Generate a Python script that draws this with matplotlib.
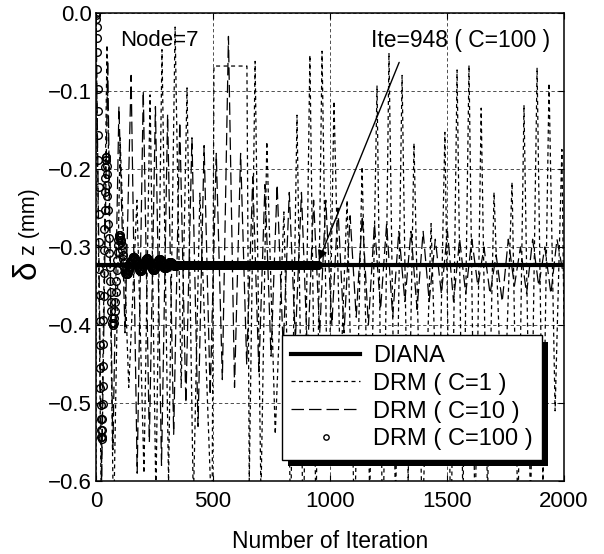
import numpy as np
import matplotlib
matplotlib.use("Agg")
import matplotlib.pyplot as plt
import matplotlib.patheffects as pe

plt.rcParams['font.family'] = ['Liberation Sans', 'DejaVu Sans']

# DIANA reference value
diana_val = -0.323

# DRM (C=1): turning points of the zigzag (iteration, delta z)
c1_iter = [0, 22, 47, 75, 103, 140, 175, 205, 231, 256, 282, 310, 338, 364, 389,
           416, 444, 496, 504, 645, 655, 680, 705, 730, 766, 803, 832, 859, 886,
           914, 940, 966, 992, 1017, 1045, 1073, 1105, 1137, 1170, 1201, 1226,
           1252, 1280, 1308, 1334, 1359, 1395, 1432, 1462, 1491, 1517, 1543,
           1568, 1594, 1620, 1646, 1673, 1701, 1740, 1778, 1803, 1829, 1857,
           1885, 1910, 1936, 1962, 1991, 2000]
c1_val = [0.0, -0.62, -0.041, -0.66, -0.160, -0.48, -0.240, -0.59, -0.105, -0.62,
          -0.047, -0.60, -0.018, -0.48, -0.096, -0.63, -0.231, -0.66, -0.068,
          -0.068, -0.60, -0.062, -0.62, -0.165, -0.54, -0.255, -0.64, -0.131,
          -0.68, -0.054, -0.65, -0.049, -0.56, -0.113, -0.47, -0.240, -0.66,
          -0.197, -0.62, -0.093, -0.70, -0.051, -0.64, -0.080, -0.60, -0.167,
          -0.66, -0.270, -0.58, -0.153, -0.68, -0.073, -0.63, -0.067, -0.66,
          -0.122, -0.62, -0.230, -0.56, -0.217, -0.65, -0.118, -0.64, -0.070,
          -0.60, -0.090, -0.51, -0.175, -0.40]

# DRM (C=10): turning points
c10_iter = [0, 24, 50, 72, 98, 124, 150, 176, 202, 228, 254, 280, 306, 332, 358,
            384, 410, 436, 462, 488, 514, 540, 566, 592, 618, 644, 670, 696, 722,
            748, 774, 800, 826, 852, 878, 904, 930, 956, 982, 1008, 1034, 1060,
            1086, 1112, 1138, 1164, 1190, 1216, 1242, 1268, 1294, 1320, 1346,
            1372, 1398, 1424, 1450, 1476, 1502, 1528, 1554, 1580, 1606, 1632,
            1658, 1684, 1710, 1736, 1762, 1788, 1814, 1840, 1866, 1892, 1918,
            1944, 1970, 2000]
c10_val = [0.0, -0.60, -0.06, -0.56, -0.12, -0.41, -0.08, -0.59, -0.10, -0.55,
           -0.12, -0.58, -0.13, -0.54, -0.14, -0.50, -0.16, -0.53, -0.17, -0.49,
           -0.18, -0.47, -0.03, -0.48, -0.18, -0.45, -0.21, -0.46, -0.22, -0.44,
           -0.22, -0.43, -0.23, -0.42, -0.23, -0.44, -0.24, -0.41, -0.24, -0.40,
           -0.25, -0.41, -0.26, -0.39, -0.26, -0.40, -0.27, -0.38, -0.27, -0.39,
           -0.28, -0.37, -0.28, -0.38, -0.28, -0.37, -0.29, -0.36, -0.28, -0.37,
           -0.29, -0.36, -0.29, -0.35, -0.30, -0.36, -0.31, -0.37, -0.29, -0.35,
           -0.30, -0.36, -0.29, -0.35, -0.30, -0.36, -0.29, -0.34]

# DRM (C=100): first swing, one value per iteration (0-47)
c100_first = [0.000, -0.002, -0.008, -0.018, -0.032, -0.050, -0.072, -0.097, -0.125,
              -0.156, -0.189, -0.223, -0.258, -0.293, -0.328, -0.362, -0.395, -0.426,
              -0.455, -0.481, -0.503, -0.521, -0.535, -0.543, -0.546, -0.543, -0.534,
              -0.520, -0.501, -0.478, -0.452, -0.424, -0.394, -0.363, -0.333, -0.304,
              -0.277, -0.252, -0.230, -0.212, -0.198, -0.189, -0.184, -0.184, -0.188,
              -0.196, -0.207, -0.220]
# every 2nd iteration, 48-350
c100_rest = [-0.235, -0.252, -0.270, -0.289, -0.308, -0.326, -0.343, -0.358, -0.371,
             -0.382, -0.391, -0.397, -0.400, -0.400, -0.397, -0.391, -0.382, -0.371,
             -0.358, -0.344, -0.330, -0.317, -0.306, -0.297, -0.291, -0.287, -0.285,
             -0.285, -0.287, -0.291,
             -0.293, -0.298, -0.304, -0.310, -0.316, -0.321, -0.325, -0.328, -0.331,
             -0.333, -0.334, -0.335, -0.335, -0.334, -0.333, -0.331, -0.329, -0.326,
             -0.324, -0.322, -0.320, -0.318, -0.317, -0.315, -0.314, -0.313, -0.313,
             -0.313, -0.313, -0.314, -0.315, -0.317, -0.318, -0.320, -0.322, -0.324,
             -0.326, -0.328, -0.329, -0.330, -0.331, -0.331, -0.331, -0.330, -0.329,
             -0.328, -0.326, -0.324, -0.322, -0.320, -0.318, -0.317, -0.315, -0.315,
             -0.314, -0.314, -0.314, -0.315, -0.316, -0.317, -0.319, -0.320, -0.322,
             -0.324, -0.325, -0.327, -0.328, -0.329, -0.329, -0.329, -0.329, -0.328,
             -0.327, -0.325, -0.324, -0.322, -0.321, -0.319, -0.318, -0.317, -0.316,
             -0.316, -0.316, -0.316, -0.317, -0.318, -0.319, -0.321, -0.322, -0.323,
             -0.325, -0.326, -0.327, -0.327, -0.327, -0.327, -0.326, -0.325, -0.324,
             -0.323, -0.322, -0.321, -0.320, -0.319, -0.319, -0.319, -0.319, -0.320,
             -0.320, -0.321, -0.322, -0.323, -0.323, -0.324, -0.324, -0.324, -0.324,
             -0.324, -0.323, -0.323, -0.323, -0.323]
c100_plateau = -0.323
c100_end = 948

rest_iter = np.arange(48, 48 + 2 * len(c100_rest), 2)
plateau_iter = np.arange(rest_iter[-1] + 3, c100_end + 1, 3)
c100_x = np.concatenate([np.arange(len(c100_first)), rest_iter, plateau_iter])
c100_y = np.concatenate([c100_first, c100_rest,
                         np.full(len(plateau_iter), c100_plateau)])

fig = plt.figure(figsize=(6.04, 5.54), dpi=100)
ax = fig.add_axes([96 / 604, 1 - 481 / 554, 468 / 604, 468 / 554])

ax.plot(c1_iter, c1_val, color='black', lw=0.9, dashes=(3.2, 2.8),
        label='DRM ( C=1 )', zorder=2)
ax.plot(c10_iter, c10_val, color='black', lw=0.9, dashes=(10, 4),
        label='DRM ( C=10 )', zorder=2)
ax.plot([0, 2000], [diana_val, diana_val], color='black', lw=3.0,
        label='DIANA', zorder=3)
ax.plot(c100_x, c100_y, 'o', ms=5.5, mfc='none', mec='black', mew=1.0,
        label='DRM ( C=100 )', zorder=4)

ax.set_xlim(0, 2000)
ax.set_ylim(-0.6, 0.0)
ax.set_xticks([0, 500, 1000, 1500, 2000])
ax.set_yticks([0.0, -0.1, -0.2, -0.3, -0.4, -0.5, -0.6])
ax.set_yticklabels(['0.0', '\u22120.1', '\u22120.2', '\u22120.3', '\u22120.4',
                    '\u22120.5', '\u22120.6'])
ax.tick_params(direction='in', top=True, right=True, length=4, labelsize=16)
ax.tick_params(axis='x', pad=7)
ax.tick_params(axis='y', pad=3)
ax.grid(True, color='0.2', lw=0.6, linestyle=(0, (4, 3)))
for s in ax.spines.values():
    s.set_linewidth(1.1)

ax.set_xlabel('Number of Iteration', fontsize=16.5, labelpad=13)
fig.text(27 / 604, 1 - 270 / 554, '\u03b4', rotation=90, fontsize=24,
         ha='center', va='center')
fig.text(30 / 604, 1 - 222 / 554, 'z (mm)', rotation=90, fontsize=15.5,
         ha='center', va='center')

ax.text(103, -0.035, 'Node=7', fontsize=16, ha='left', va='center')
ax.text(1940, -0.035, 'Ite=948 ( C=100 )', fontsize=16.5, ha='right', va='center')
ax.annotate('', xy=(948, -0.320), xytext=(1300, -0.06),
            arrowprops=dict(arrowstyle='-|>', color='black', lw=1,
                            mutation_scale=14))

handles, labels = ax.get_legend_handles_labels()
order = [2, 0, 1, 3]
leg = ax.legend([handles[i] for i in order], [labels[i] for i in order],
                loc='lower right', bbox_to_anchor=(0.953, 0.045),
                borderaxespad=0, fontsize=17, fancybox=False, framealpha=1,
                edgecolor='black', handlelength=2.9, handletextpad=0.55,
                labelspacing=0.25, borderpad=0.4, markerscale=0.7)
leg.get_frame().set_linewidth(1.0)
leg.get_frame().set_path_effects([
    pe.SimplePatchShadow(offset=(4.5, -4.5), shadow_rgbFace='black', alpha=1),
    pe.Normal()])

fig.savefig('out.png', dpi=100)
